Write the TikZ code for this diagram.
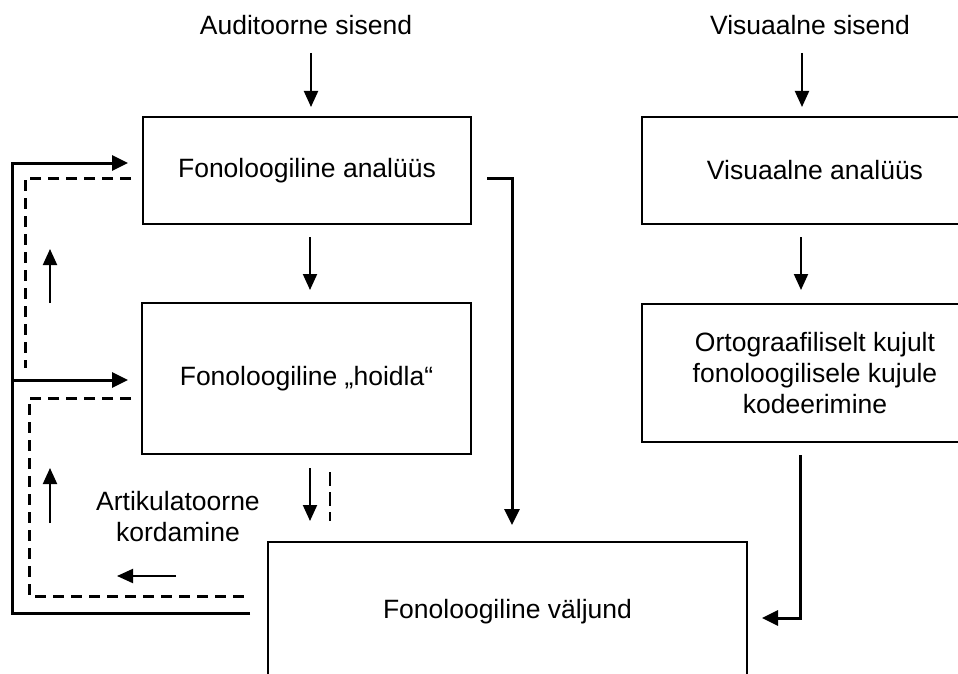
\documentclass[tikz,border=0pt]{standalone}
\usepackage{fontspec}
\setmainfont{Liberation Sans}
\usetikzlibrary{arrows.meta}
\begin{document}
\begin{tikzpicture}[x=1pt,y=-1pt,
  txt/.style={font=\fontsize{26.5}{31}\selectfont, align=center, inner sep=0pt},
  box/.style={txt, draw, line width=2pt, rectangle},
  arr/.style={line width=2pt, -{Triangle[length=16pt,width=14pt]}},
  thickarr/.style={line width=3pt, -{Triangle[length=16pt,width=15pt]}},
  thickline/.style={line width=3pt},
  dashline/.style={line width=3pt, dash pattern=on 11pt off 7pt},
  ]
\useasboundingbox (0,0) rectangle (958,674);
\clip (0,0) rectangle (958,674);

% boxes
\node[box, minimum width=328pt, minimum height=107pt] (fa) at (307,170.5) {Fonoloogiline analüüs};
\node[box, minimum width=329pt, minimum height=151pt] (fh) at (306.5,378.5) {Fonoloogiline „hoidla“};
\node[box, minimum width=346pt, minimum height=107pt] (va) at (815,170.5) {Visuaalne analüüs};
\node[box, minimum width=346pt, minimum height=138pt] (ok) at (815,373) {Ortograafiliselt kujult\\fonoloogilisele kujule\\kodeerimine};
\node[box, minimum width=479pt, minimum height=140pt] (fv) at (507.5,612) {Fonoloogiline väljund};

% labels
\node[txt] (as) at (306,25) {Auditoorne sisend};
\node[txt] (vs) at (810,25) {Visuaalne sisend};
\node[txt] (ak) at (178,517) {Artikulatoorne\\kordamine};

% coordinates
\coordinate (a1) at (311,53);  \coordinate (a2) at (311,107);
\coordinate (v1) at (802,53);  \coordinate (v2) at (802,107);
\coordinate (b1) at (310,237); \coordinate (b2) at (310,290);
\coordinate (w1) at (801,237); \coordinate (w2) at (801,290);
\coordinate (c1) at (310,468); \coordinate (c2) at (310,521);
\coordinate (d1) at (330,472); \coordinate (d2) at (330,521);
\coordinate (h1) at (487,178); \coordinate (h2) at (512,178); \coordinate (h3) at (512,525);
\coordinate (r1) at (800,455); \coordinate (r2) at (800,618); \coordinate (r3) at (762,618);
\coordinate (u1) at (50,303);  \coordinate (u2) at (50,249);
\coordinate (u3) at (50,523);  \coordinate (u4) at (50,468);
\coordinate (l1) at (176,576); \coordinate (l2) at (117,576);
% solid feedback
\coordinate (s0) at (250,613); \coordinate (s1) at (12,613); \coordinate (s2) at (12,163);
\coordinate (s3) at (128,163); \coordinate (s4) at (12,380); \coordinate (s5) at (128,380);
% dashed feedback
\coordinate (e0) at (131,178); \coordinate (e1) at (25,178); \coordinate (e2) at (25,368);
\coordinate (f0) at (131,398); \coordinate (f1) at (29,398); \coordinate (f2) at (29,596); \coordinate (f3) at (250,596);

% arrows
\draw[arr] (a1) -- (a2);
\draw[arr] (v1) -- (v2);
\draw[arr] (b1) -- (b2);
\draw[arr] (w1) -- (w2);
\draw[arr] (c1) -- (c2);
\draw[line width=2.5pt, dash pattern=on 14pt off 6pt] (d1) -- (d2);
\draw[thickarr] (h1) -- (h2) -- (h3);
\draw[thickarr] (r1) -- (r2) -- (r3);
\draw[arr] (u1) -- (u2);
\draw[arr] (u3) -- (u4);
\draw[arr] (l1) -- (l2);

\draw[thickarr] (s0) -- (s1) -- (s2) -- (s3);
\draw[thickarr] (s4) -- (s5);
\draw[dashline] (e0) -- (e1) -- (e2);
\draw[dashline] (f0) -- (f1) -- (f2) -- (f3);
\end{tikzpicture}
\end{document}
